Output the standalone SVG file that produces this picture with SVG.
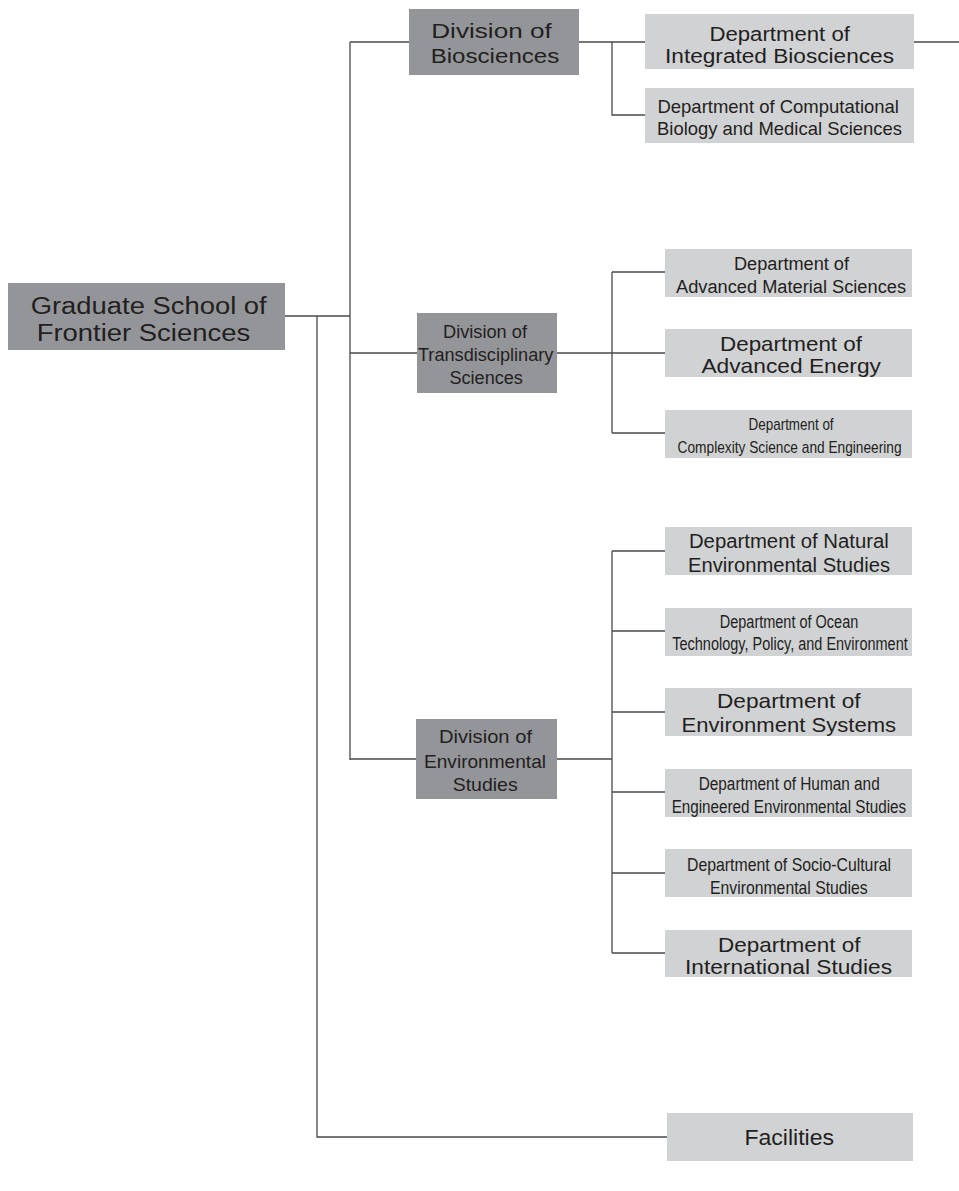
<svg xmlns="http://www.w3.org/2000/svg" width="959" height="1191" viewBox="0 0 959 1191">
<style>
.dk{fill:#939598}
.lt{fill:#d1d2d4}
text{font-family:"Liberation Sans",Arial,sans-serif;fill:#231f20;text-anchor:middle}
.conn{stroke:#4a4a4a;stroke-width:1.3;fill:none}
</style>
<rect width="959" height="1191" fill="#ffffff"/>
<g id="connectors" class="conn">
<path d="M285,316H350M350,42V760M350,42H409M350,353H417M350,759H417"/>
<path d="M317,316V1137H667"/>
<path d="M579,42H645M612,42V115H645M914,42H959"/>
<path d="M557,353H665M612,272V433M612,272H665M612,433H665"/>
<path d="M557,759H612M612,551V953M612,551H665M612,631H665M612,712H665M612,792H665M612,873H665M612,953H665"/>
</g>
<g id="root">
<rect class="dk" x="8" y="283" width="277" height="67"/>
<text x="148.7" y="314" font-size="23" textLength="236" lengthAdjust="spacingAndGlyphs">Graduate School of</text>
<text x="143.4" y="340.7" font-size="23" textLength="213.5" lengthAdjust="spacingAndGlyphs">Frontier Sciences</text>
</g>
<g id="div-bio">
<rect class="dk" x="409" y="9" width="170" height="66"/>
<text x="491.5" y="38" font-size="20" textLength="120.5" lengthAdjust="spacingAndGlyphs">Division of</text>
<text x="495" y="63.3" font-size="20" textLength="128.7" lengthAdjust="spacingAndGlyphs">Biosciences</text>
</g>
<g id="dept-integrated">
<rect class="lt" x="645" y="14" width="269" height="55"/>
<text x="779.7" y="40.7" font-size="20" textLength="140.5" lengthAdjust="spacingAndGlyphs">Department of</text>
<text x="779.5" y="63.3" font-size="20" textLength="229" lengthAdjust="spacingAndGlyphs">Integrated Biosciences</text>
</g>
<g id="dept-computational">
<rect class="lt" x="645" y="88" width="269" height="55"/>
<text x="778.2" y="113.3" font-size="19" textLength="241.5" lengthAdjust="spacingAndGlyphs">Department of Computational</text>
<text x="779.5" y="135" font-size="19" textLength="245" lengthAdjust="spacingAndGlyphs">Biology and Medical Sciences</text>
</g>
<g id="div-trans">
<rect class="dk" x="417" y="313" width="140" height="80"/>
<text x="485" y="338" font-size="17.5" textLength="84" lengthAdjust="spacingAndGlyphs">Division of</text>
<text x="485.7" y="361" font-size="17.5" textLength="135.5" lengthAdjust="spacingAndGlyphs">Transdisciplinary</text>
<text x="486.2" y="384" font-size="17.5" textLength="73.5" lengthAdjust="spacingAndGlyphs">Sciences</text>
</g>
<g id="dept-material">
<rect class="lt" x="665" y="249" width="247" height="48"/>
<text x="791.5" y="270" font-size="18" textLength="115" lengthAdjust="spacingAndGlyphs">Department of</text>
<text x="791" y="293" font-size="18" textLength="230" lengthAdjust="spacingAndGlyphs">Advanced Material Sciences</text>
</g>
<g id="dept-energy">
<rect class="lt" x="665" y="329" width="247" height="48"/>
<text x="791" y="350.7" font-size="21" textLength="142" lengthAdjust="spacingAndGlyphs">Department of</text>
<text x="791.2" y="373.3" font-size="21" textLength="179.5" lengthAdjust="spacingAndGlyphs">Advanced Energy</text>
</g>
<g id="dept-complexity">
<rect class="lt" x="665" y="410" width="247" height="48"/>
<text x="791.1" y="430" font-size="17" textLength="85" lengthAdjust="spacingAndGlyphs">Department of</text>
<text x="789.6" y="453.3" font-size="17" textLength="224" lengthAdjust="spacingAndGlyphs">Complexity Science and Engineering</text>
</g>
<g id="div-env">
<rect class="dk" x="416" y="719" width="141" height="80"/>
<text x="485.5" y="743" font-size="19" textLength="93" lengthAdjust="spacingAndGlyphs">Division of</text>
<text x="485" y="768" font-size="19" textLength="122" lengthAdjust="spacingAndGlyphs">Environmental</text>
<text x="485.2" y="791" font-size="19" textLength="65" lengthAdjust="spacingAndGlyphs">Studies</text>
</g>
<g id="dept-natural">
<rect class="lt" x="665" y="527" width="247" height="48"/>
<text x="788.9" y="547.7" font-size="20" textLength="200" lengthAdjust="spacingAndGlyphs">Department of Natural</text>
<text x="789" y="571.7" font-size="20" textLength="202" lengthAdjust="spacingAndGlyphs">Environmental Studies</text>
</g>
<g id="dept-ocean">
<rect class="lt" x="665" y="608" width="247" height="48"/>
<text x="789" y="628" font-size="17.5" textLength="138.5" lengthAdjust="spacingAndGlyphs">Department of Ocean</text>
<text x="790" y="650" font-size="17.5" textLength="235.5" lengthAdjust="spacingAndGlyphs">Technology, Policy, and Environment</text>
</g>
<g id="dept-envsys">
<rect class="lt" x="665" y="688" width="247" height="48"/>
<text x="788.8" y="708" font-size="21" textLength="143.6" lengthAdjust="spacingAndGlyphs">Department of</text>
<text x="788.8" y="732" font-size="21" textLength="214.6" lengthAdjust="spacingAndGlyphs">Environment Systems</text>
</g>
<g id="dept-human">
<rect class="lt" x="665" y="769" width="247" height="48"/>
<text x="789.2" y="790" font-size="18" textLength="181" lengthAdjust="spacingAndGlyphs">Department of Human and</text>
<text x="788.9" y="813" font-size="18" textLength="234.5" lengthAdjust="spacingAndGlyphs">Engineered Environmental Studies</text>
</g>
<g id="dept-socio">
<rect class="lt" x="665" y="849" width="247" height="48"/>
<text x="789" y="871.3" font-size="18.5" textLength="204" lengthAdjust="spacingAndGlyphs">Department of Socio-Cultural</text>
<text x="788.9" y="894" font-size="18.5" textLength="157.7" lengthAdjust="spacingAndGlyphs">Environmental Studies</text>
</g>
<g id="dept-international">
<rect class="lt" x="665" y="930" width="247" height="47"/>
<text x="789.3" y="951.7" font-size="21" textLength="142.6" lengthAdjust="spacingAndGlyphs">Department of</text>
<text x="788.5" y="974" font-size="21" textLength="207" lengthAdjust="spacingAndGlyphs">International Studies</text>
</g>
<g id="facilities">
<rect class="lt" x="667" y="1113" width="246" height="48"/>
<text x="789.2" y="1145" font-size="22" textLength="89.6" lengthAdjust="spacingAndGlyphs">Facilities</text>
</g>
</svg>
